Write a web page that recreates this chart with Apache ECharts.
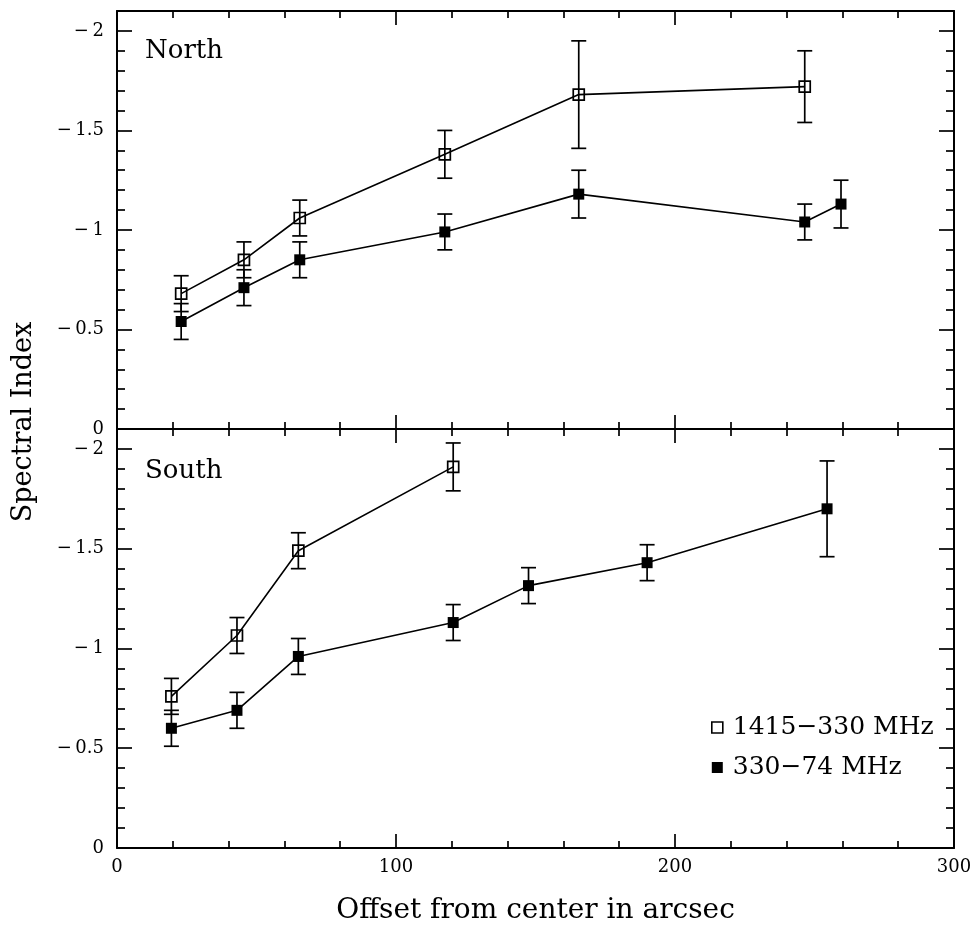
<!DOCTYPE html>
<html><head><meta charset="utf-8">
<script src="https://cdn.jsdelivr.net/npm/echarts@6/dist/echarts.min.js"></script>
<style>html,body{margin:0;padding:0;background:#fff}#c{width:979px;height:928px}</style>
</head><body><div id="c"></div>
<script>
// ---- data ----
const northOpenX   = [23, 45.5, 65.5, 117.5, 165.5, 246.5];
const northOpenY   = [-0.68, -0.85, -1.06, -1.38, -1.68, -1.72];
const northOpenErr = [0.09, 0.09, 0.09, 0.12, 0.27, 0.18];

const northFillX   = [23, 45.5, 65.5, 117.5, 165.5, 246.5, 259.5];
const northFillY   = [-0.54, -0.71, -0.85, -0.99, -1.18, -1.04, -1.13];
const northFillErr = [0.09, 0.09, 0.09, 0.09, 0.12, 0.09, 0.12];

const southOpenX   = [19.5, 43, 65, 120.5];
const southOpenY   = [-0.76, -1.065, -1.49, -1.91];
const southOpenErr = [0.09, 0.09, 0.09, 0.12];

const southFillX   = [19.5, 43, 65, 120.5, 147.5, 190, 254.5];
const southFillY   = [-0.60, -0.69, -0.96, -1.13, -1.315, -1.43, -1.70];
const southFillErr = [0.09, 0.09, 0.09, 0.09, 0.09, 0.09, 0.24];

const seriesNames = ['1415\u2212330 MHz', '330\u221274 MHz'];
const panelNames = ['North', 'South'];

const yMajor = [-2, -1.5, -1, -0.5, 0];
const yMajorLabels = ['\u2212\u20092', '\u2212\u20091.5', '\u2212\u20091', '\u2212\u20090.5', '0'];
const yMinor = [-1.9, -1.8, -1.7, -1.6, -1.4, -1.3, -1.2, -1.1, -0.9, -0.8, -0.7, -0.6, -0.4, -0.3, -0.2, -0.1];
const xTickLabels = ['0', '100', '200', '300'];

// ---- helpers ----
const BLACK = '#000';
const tickFont = 'DejaVu Serif';
const textFont = 'DejaVu Serif';

function pairs(xs, ys) { return xs.map((x, i) => [x, ys[i]]); }
function triples(xs, ys, es) { return xs.map((x, i) => [x, ys[i], es[i]]); }

function xAxisDef(grid, pos, labels, name) {
  const a = {
    type: 'value', gridIndex: grid, position: pos, min: 0, max: 300, interval: 100,
    axisLine: { show: true, onZero: false, lineStyle: { color: BLACK, width: 2 } },
    axisTick: { show: true, inside: true, length: 14, lineStyle: { color: BLACK, width: 1.7 } },
    minorTick: { show: true, splitNumber: 5, length: 7, lineStyle: { color: BLACK, width: 1.7 } },
    splitLine: { show: false }, minorSplitLine: { show: false },
    axisLabel: labels ? {
      show: true, margin: 10, color: BLACK, fontSize: 18, fontFamily: tickFont,
      formatter: v => xTickLabels[Math.round(v / 100)]
    } : { show: false }
  };
  if (name) {
    a.name = name; a.nameLocation = 'middle'; a.nameGap = 49;
    a.nameTextStyle = { color: BLACK, fontSize: 28, fontFamily: textFont };
  }
  return a;
}

function yAxisDef(grid, pos, major, labels) {
  return {
    type: 'value', gridIndex: grid, position: pos, min: -2.1, max: 0, inverse: true,
    axisLine: { show: major, onZero: false, lineStyle: { color: BLACK, width: 2 } },
    axisTick: {
      show: true, inside: true, length: major ? 15 : 8,
      customValues: major ? yMajor : yMinor,
      lineStyle: { color: BLACK, width: 1.7 }
    },
    splitLine: { show: false },
    axisLabel: labels ? {
      show: true, margin: 13, color: BLACK, fontSize: 18, fontFamily: tickFont,
      customValues: yMajor,
      formatter: v => {
        let best = 0;
        yMajor.forEach((m, i) => { if (Math.abs(m - v) < Math.abs(yMajor[best] - v)) best = i; });
        return yMajorLabels[best];
      }
    } : { show: false }
  };
}

function errRender(params, api) {
  const x = api.value(0), y = api.value(1), e = api.value(2);
  const top = api.coord([x, y - e]);
  const bot = api.coord([x, y + e]);
  const w = 7.5;
  const style = { stroke: BLACK, lineWidth: 1.7 };
  return {
    type: 'group', children: [
      { type: 'line', shape: { x1: top[0], y1: top[1], x2: bot[0], y2: bot[1] }, style },
      { type: 'line', shape: { x1: top[0] - w, y1: top[1], x2: top[0] + w, y2: top[1] }, style },
      { type: 'line', shape: { x1: bot[0] - w, y1: bot[1], x2: bot[0] + w, y2: bot[1] }, style }
    ]
  };
}

function lineSeries(name, xi, yi, data, open) {
  return {
    type: 'line', name, xAxisIndex: xi, yAxisIndex: yi, data,
    symbol: 'rect', symbolSize: 11, showSymbol: true,
    lineStyle: { color: BLACK, width: 1.6 },
    itemStyle: open ? { color: 'transparent', borderColor: BLACK, borderWidth: 1.7 }
                    : { color: BLACK, borderColor: BLACK, borderWidth: 0 },
    emphasis: { disabled: true }, animation: false, z: 3
  };
}
function errSeries(xi, yi, data) {
  return {
    type: 'custom', xAxisIndex: xi, yAxisIndex: yi, data,
    encode: { x: 0, y: 1 }, renderItem: errRender, animation: false, z: 2, silent: true
  };
}

const chart = echarts.init(document.getElementById('c'), null, { renderer: 'canvas' });
const option = {
  backgroundColor: '#fff',
  animation: false,
  grid: [
    { left: 117, width: 837, top: 11, height: 418, outerBoundsMode: 'none', containLabel: false },
    { left: 117, width: 837, top: 429, height: 419, outerBoundsMode: 'none', containLabel: false }
  ],
  xAxis: [
    xAxisDef(0, 'bottom', false),
    xAxisDef(0, 'top', false),
    xAxisDef(1, 'bottom', true, 'Offset from center in arcsec'),
    xAxisDef(1, 'top', false)
  ],
  yAxis: [
    yAxisDef(0, 'left', true, true),
    yAxisDef(0, 'left', false, false),
    yAxisDef(0, 'right', true, false),
    yAxisDef(0, 'right', false, false),
    yAxisDef(1, 'left', true, true),
    yAxisDef(1, 'left', false, false),
    yAxisDef(1, 'right', true, false),
    yAxisDef(1, 'right', false, false)
  ],
  legend: {
    show: true, orient: 'vertical', left: 711, top: 715, padding: 0,
    itemWidth: 11, itemHeight: 11, itemGap: 15, selectedMode: false,
    textStyle: { color: BLACK, fontSize: 25, fontFamily: textFont, padding: [0, 0, 0, 5] },
    data: [
      { name: seriesNames[0], icon: 'rect', itemStyle: { color: 'transparent', borderColor: BLACK, borderWidth: 1.6 } },
      { name: seriesNames[1], icon: 'rect', itemStyle: { color: BLACK, borderWidth: 0 } }
    ]
  },
  graphic: [
    { type: 'text', left: 145, top: 38, style: { text: panelNames[0], font: '26px "DejaVu Serif"', fill: BLACK } },
    { type: 'text', left: 145, top: 458, style: { text: panelNames[1], font: '26px "DejaVu Serif"', fill: BLACK } },
    { type: 'text', x: 24, y: 422, rotation: Math.PI / 2,
      style: { text: 'Spectral Index', font: '27px "DejaVu Serif"', fill: BLACK, align: 'center', verticalAlign: 'middle' } }
  ],
  series: [
    errSeries(0, 0, triples(northOpenX, northOpenY, northOpenErr)),
    errSeries(0, 0, triples(northFillX, northFillY, northFillErr)),
    lineSeries(seriesNames[0], 0, 0, pairs(northOpenX, northOpenY), true),
    lineSeries(seriesNames[1], 0, 0, pairs(northFillX, northFillY), false),
    errSeries(2, 4, triples(southOpenX, southOpenY, southOpenErr)),
    errSeries(2, 4, triples(southFillX, southFillY, southFillErr)),
    lineSeries(seriesNames[0], 2, 4, pairs(southOpenX, southOpenY), true),
    lineSeries(seriesNames[1], 2, 4, pairs(southFillX, southFillY), false)
  ]
};
chart.setOption(option);
</script>
</body></html>
